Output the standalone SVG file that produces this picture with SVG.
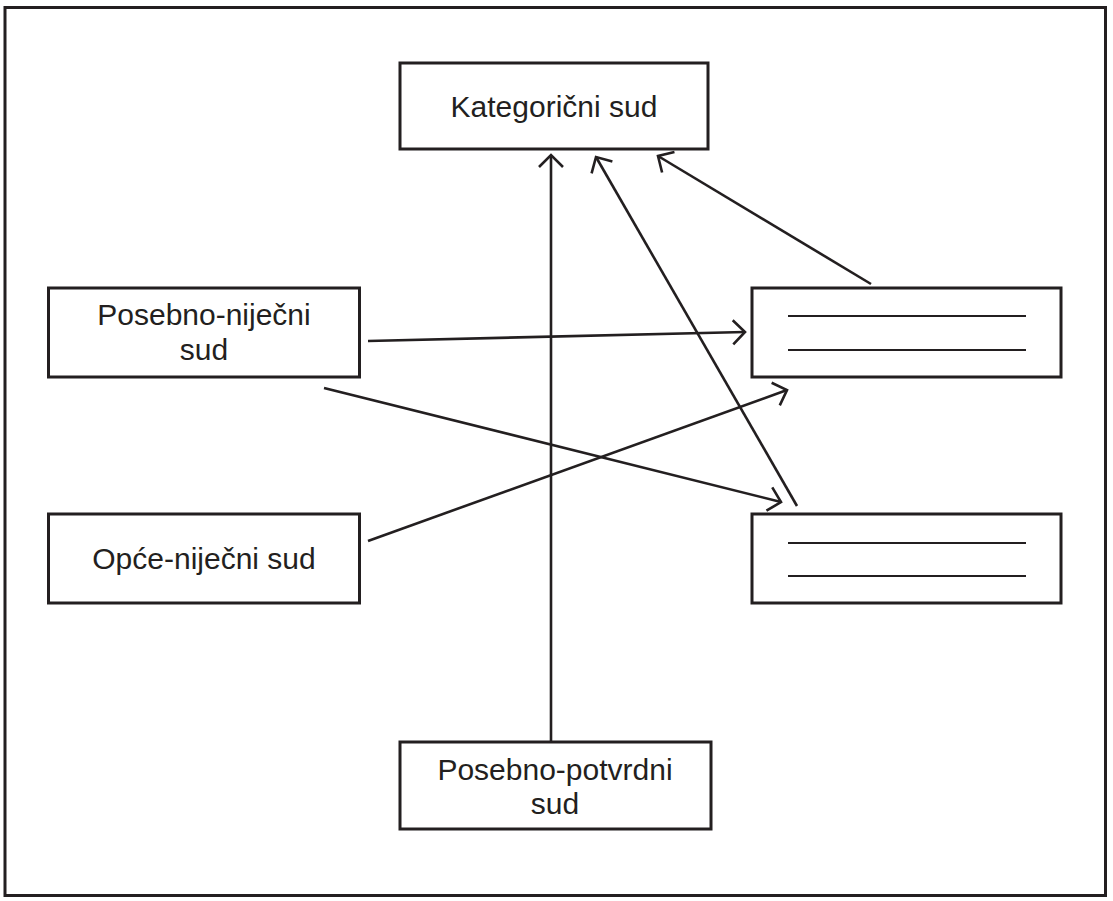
<svg xmlns="http://www.w3.org/2000/svg" width="1113" height="901" viewBox="0 0 1113 901">
<style>
.box{fill:#fff;stroke:#231f20;stroke-width:3}
.frame{fill:none;stroke:#231f20;stroke-width:3}
.blank{stroke:#231f20;stroke-width:2}
.lbl{font-family:"Liberation Sans",Arial,sans-serif;font-size:30px;fill:#231f20;text-anchor:middle}
.conn{stroke:#231f20;stroke-width:2.6;fill:none;marker-end:url(#ah)}
</style>
<defs>
<marker id="ah" markerUnits="userSpaceOnUse" markerWidth="30" markerHeight="30" refX="0" refY="0" viewBox="-15 -15 30 30" orient="auto" overflow="visible">
<path d="M-12,-12 L0,0 L-12,12" fill="none" stroke="#231f20" stroke-width="2.6"/>
</marker>
</defs>
<rect x="0" y="0" width="1113" height="901" fill="#fff"/>
<rect class="frame" x="5" y="7.5" width="1100.5" height="888"/>
<g id="connectors">
<line class="conn" x1="551" y1="742" x2="551" y2="155"/>
<line class="conn" x1="797" y1="506" x2="596" y2="157"/>
<line class="conn" x1="871" y1="284" x2="658" y2="156"/>
<line class="conn" x1="368" y1="341" x2="745" y2="332"/>
<line class="conn" x1="324" y1="388" x2="781" y2="502"/>
<line class="conn" x1="368" y1="541" x2="787" y2="390"/>
</g>
<g id="kategoricni">
<rect class="box" x="400" y="63" width="308" height="86"/>
<text class="lbl" x="554" y="117">Kategorični sud</text>
</g>
<g id="posebno-nijecni">
<rect class="box" x="48.5" y="288" width="311" height="89"/>
<text class="lbl" x="204" y="325">Posebno-niječni</text>
<text class="lbl" x="204" y="360">sud</text>
</g>
<g id="opce-nijecni">
<rect class="box" x="48.5" y="514" width="311" height="89"/>
<text class="lbl" x="204" y="569">Opće-niječni sud</text>
</g>
<g id="posebno-potvrdni">
<rect class="box" x="400" y="742" width="311" height="87"/>
<text class="lbl" x="555" y="780">Posebno-potvrdni</text>
<text class="lbl" x="555" y="814">sud</text>
</g>
<g id="blank1">
<rect class="box" x="752" y="288" width="309" height="89"/>
<line class="blank" x1="788" y1="316" x2="1026" y2="316"/>
<line class="blank" x1="788" y1="350" x2="1026" y2="350"/>
</g>
<g id="blank2">
<rect class="box" x="752" y="514" width="309" height="89"/>
<line class="blank" x1="788" y1="543" x2="1026" y2="543"/>
<line class="blank" x1="788" y1="576" x2="1026" y2="576"/>
</g>
</svg>
